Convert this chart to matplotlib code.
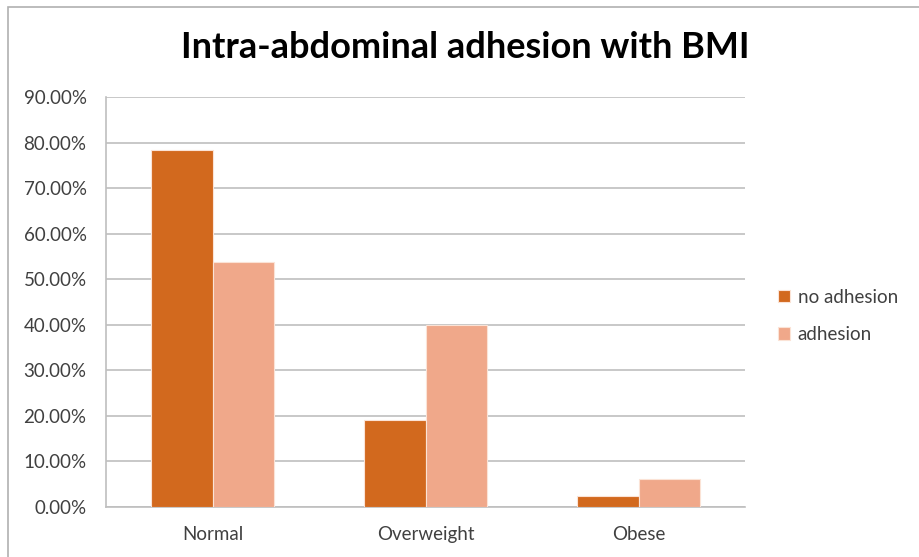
import matplotlib
matplotlib.use("Agg")
import matplotlib.pyplot as plt
from matplotlib.patches import Rectangle
from matplotlib.ticker import FuncFormatter

categories = ["Normal", "Overweight", "Obese"]
no_adhesion = [78.3, 19.2, 2.5]
adhesion = [53.8, 40.0, 6.2]
series_names = ["no adhesion", "adhesion"]
colors = ["#D2691E", "#F0A88A"]
y_ticks = [0, 10, 20, 30, 40, 50, 60, 70, 80, 90]

plt.rcParams["font.family"] = ["Lato", "DejaVu Sans"]

W, H = 920, 557
fig = plt.figure(figsize=(W / 100, H / 100), dpi=100)
fig.patch.set_facecolor("white")

# outer chart frame
frame = Rectangle((8 / W, -0.05), 1.2, (H - 7) / H + 0.05, transform=fig.transFigure,
                  fill=False, edgecolor="#b0b0b0", linewidth=1.2, zorder=0)
fig.add_artist(frame)

left, right, top, bottom = 106, 745, 97, 507
ax = fig.add_axes([left / W, 1 - bottom / H, (right - left) / W, (bottom - top) / H])

x = list(range(len(categories)))
bw = 0.287
ax.bar([i - bw / 2 for i in x], no_adhesion, width=bw, color=colors[0],
       edgecolor="#fbe3d6", linewidth=0.8, label=series_names[0], zorder=3)
ax.bar([i + bw / 2 for i in x], adhesion, width=bw, color=colors[1],
       edgecolor="#fbe3d6", linewidth=0.8, label=series_names[1], zorder=3)

ax.set_xlim(-0.5, len(categories) - 0.5)
ax.set_ylim(0, 90)
ax.set_yticks(y_ticks)
ax.yaxis.set_major_formatter(FuncFormatter(lambda v, p: f"{v:.2f}%"))
ax.set_xticks(x)
ax.set_xticklabels(categories)

ax.grid(axis="y", color="#bfbfbf", linewidth=1.2, zorder=0)
ax.set_axisbelow(True)
for s in ["top", "right"]:
    ax.spines[s].set_visible(False)
ax.spines["left"].set_color("#bfbfbf")
ax.spines["left"].set_linewidth(1.2)
ax.spines["bottom"].set_color("#bfbfbf")
ax.spines["bottom"].set_linewidth(1.2)
ax.tick_params(axis="both", length=0, labelsize=13.5, colors="#404040")
ax.tick_params(axis="y", pad=14)
ax.tick_params(axis="x", pad=14)

fig.text(0.5 * (183 + 748) / W, 1 - 48 / H, "Intra-abdominal adhesion with BMI",
         ha="center", va="center", fontsize=26, fontweight="bold", color="black")

leg = fig.legend(loc="center left", bbox_to_anchor=(761 / W, 1 - 316 / H), frameon=False,
                 fontsize=13.5, handlelength=0.65, handleheight=0.65, handletextpad=0.4,
                 labelspacing=1.1)
for t in leg.get_texts():
    t.set_color("#404040")

fig.savefig("out.png", dpi=100, facecolor="white")
